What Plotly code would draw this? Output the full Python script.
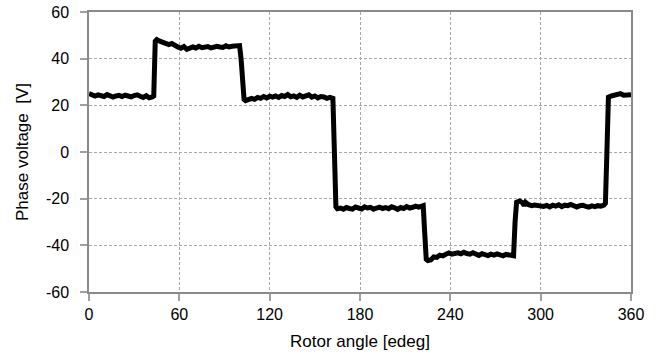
import plotly.graph_objects as go

# Rotor angle [edeg]
angle = [
    0, 2, 4, 6, 8, 10, 12, 14, 16, 18, 20, 22, 24, 26, 28, 30, 32, 34, 36, 38, 40, 42, 43,
    44, 45, 47, 49, 51, 53, 55, 57, 59, 61, 63, 65, 67, 69, 71, 73, 75, 77, 79, 81, 83, 85, 87, 89, 91, 93, 95, 97, 99, 100,
    101, 102, 103, 104, 106, 108, 110, 112, 114, 116, 118, 120, 122, 124, 126, 128, 130, 132, 134, 136, 138, 140, 142, 144,
    146, 148, 150, 152, 154, 156, 158, 160, 162,
    163, 164, 165, 167, 169, 171, 173, 175, 177, 179, 181, 183, 185, 187, 189, 191, 193, 195, 197, 199, 201, 203, 205, 207,
    209, 211, 213, 215, 217, 219, 221, 222,
    223, 224, 225, 227, 229, 231, 233, 235, 237, 239, 241, 243, 245, 247, 249, 251, 253, 255, 257, 259, 261, 263, 265, 267,
    269, 271, 273, 275, 277, 279, 281, 282,
    283, 284, 286, 288, 289, 290, 292, 294, 296, 298, 300, 302, 304, 306, 308, 310, 312, 314, 316, 318, 320, 322, 324, 326,
    328, 330, 332, 334, 336, 338, 340, 342, 343,
    344, 344.5, 345, 347, 349, 351, 353, 355, 357, 359, 360,
]

# Phase voltage [V]
voltage = [
    25.0, 24.2, 24.0, 24.5, 24.1, 23.8, 24.6, 24.2, 23.5, 24.0, 24.3, 23.8, 24.4, 24.0, 23.6, 24.2, 24.5, 23.9, 23.4, 24.1, 23.2, 23.6, 24.0,
    47.5, 48.2, 47.5, 47.0, 46.8, 46.0, 46.5, 45.5, 45.0, 44.5, 45.2, 44.0, 44.8, 45.0, 44.6, 45.3, 44.7, 45.0, 45.2, 44.6, 45.0, 45.3, 45.0, 44.8, 45.5, 45.0, 45.3, 45.6, 46.0, 45.6,
    40.0, 30.0, 22.5, 22.0, 22.8, 23.0, 22.6, 23.4, 23.0, 23.8, 23.2, 23.9, 23.5, 24.0, 23.4, 24.2, 23.8, 24.6, 23.7, 24.0, 23.4, 24.3, 23.6, 23.8,
    24.5, 23.5, 24.0, 23.2, 23.8, 23.6, 23.0, 23.4, 23.0,
    0.0, -23.5, -24.3, -24.0, -24.5, -23.8, -24.2, -24.5, -23.6, -24.0, -24.4, -23.5, -24.0, -23.7, -24.5, -24.0, -23.6, -24.2, -23.8, -24.3, -23.5, -23.9, -24.6, -23.8,
    -24.2, -23.4, -24.0, -23.7, -23.2, -23.6, -23.0, -23.0,
    -35.0, -46.0, -46.5, -46.3, -45.0, -45.2, -44.2, -44.5, -43.8, -43.3, -43.8, -43.5, -43.2, -43.6, -43.0, -43.5, -43.8, -43.2, -44.0, -44.3, -43.6, -43.9, -44.4, -43.8,
    -44.2, -43.7, -44.0, -44.5, -43.9, -44.3, -44.8, -44.5,
    -30.0, -21.5, -21.0, -21.8, -23.0, -21.6, -22.6, -23.0, -22.7, -23.0, -22.8, -23.3, -22.9, -23.5, -22.8, -23.2, -22.6, -23.4, -22.8, -23.0, -22.5, -23.2, -23.6, -23.0,
    -22.8, -23.3, -23.6, -23.1, -23.4, -23.0, -23.2, -22.8, -22.0,
    0.0, 22.5, 23.5, 24.0, 24.5, 24.8, 25.0, 24.3, 24.6, 24.4, 24.5,
]

x_ticks = [0, 60, 120, 180, 240, 300, 360]
y_ticks = [-60, -40, -20, 0, 20, 40, 60]

FONT = "Liberation Sans, Arial, sans-serif"

fig = go.Figure()
fig.add_trace(go.Scatter(
    x=angle, y=voltage, mode="lines",
    line=dict(color="black", width=5),
    showlegend=False, hoverinfo="skip",
))

axis_common = dict(
    showgrid=True, gridcolor="#a8a8a8", gridwidth=1, griddash="3px,2px",
    showline=True, linecolor="#8a8a8a", linewidth=1.5, mirror=True,
    zeroline=False, automargin=False,
    ticks="outside", ticklen=7, tickwidth=2, tickcolor="#a0a0a0",
    tickfont=dict(family=FONT, size=16, color="black"),
)

fig.update_layout(
    width=657, height=356,
    margin=dict(l=89, r=26, t=12, b=64),
    plot_bgcolor="white", paper_bgcolor="white",
    xaxis=dict(
        range=[0, 360], tickvals=x_ticks, ticktext=[str(v) for v in x_ticks],
        ticklabelstandoff=0,
        title=dict(text="Rotor angle [edeg]", font=dict(family=FONT, size=17, color="black"), standoff=13),
        **axis_common,
    ),
    yaxis=dict(
        range=[-60, 60], tickvals=y_ticks, ticktext=[str(v) for v in y_ticks],
        ticklabelstandoff=8,
        title=dict(text="Phase voltage\u00a0 [V]", font=dict(family=FONT, size=17, color="black"), standoff=13),
        **axis_common,
    ),
    xaxis2=dict(
        overlaying="x", matches="x", anchor="y", side="bottom", range=[0, 360],
        tickvals=x_ticks, showticklabels=False, showgrid=False, showline=False, zeroline=False,
        automargin=False,
        ticks="inside", ticklen=6, tickwidth=2, tickcolor="#a0a0a0",
    ),
    yaxis2=dict(
        overlaying="y", matches="y", anchor="x", side="left", range=[-60, 60],
        tickvals=y_ticks, showticklabels=False, showgrid=False, showline=False, zeroline=False,
        automargin=False,
        ticks="inside", ticklen=9, tickwidth=2, tickcolor="#a0a0a0",
    ),
)

fig.write_html("out.html", config={"displayModeBar": False},
               post_script="document.body.style.margin='0';")
